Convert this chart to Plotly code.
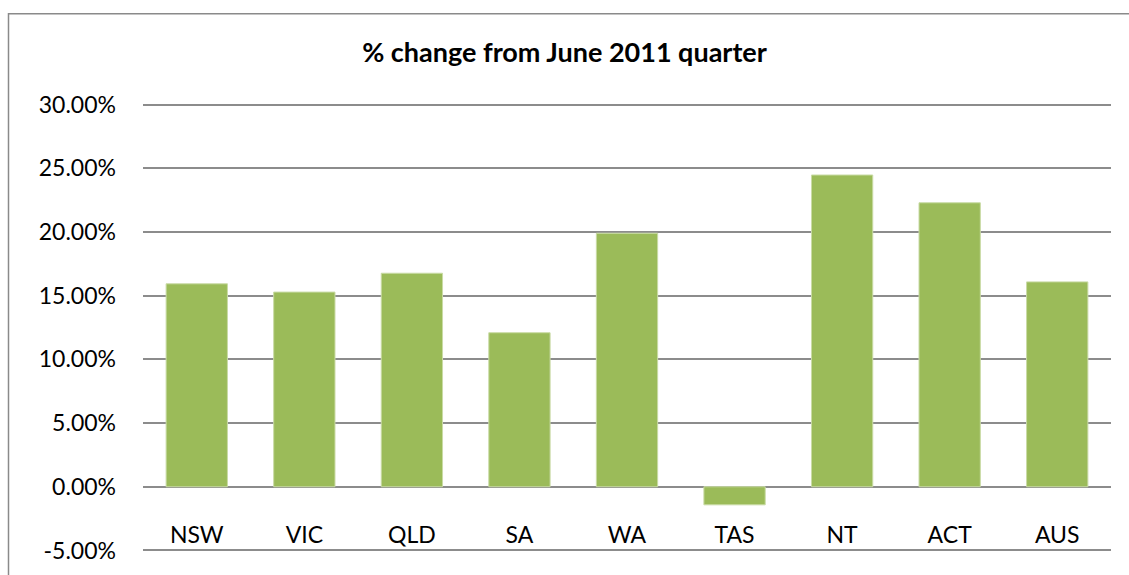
import plotly.graph_objects as go

categories = ["NSW", "VIC", "QLD", "SA", "WA", "TAS", "NT", "ACT", "AUS"]
pct_change = [0.1593, 0.1528, 0.1676, 0.1209, 0.1990, -0.0142, 0.2447, 0.2229, 0.1608]
title_text = "% change from June 2011 quarter"
y_ticks = [-0.05, 0.0, 0.05, 0.10, 0.15, 0.20, 0.25, 0.30]
y_tick_labels = [f"{v * 100:.2f}%" for v in y_ticks]

W, H = 1129, 575
ymin, ymax = -0.05, 0.30
PAD = 0.002  # small range padding so edge gridlines are drawn
# pixel positions of plot area (for -5% .. 30%)
px_left, px_right, px_top, px_bot = 143, 1111, 105, 557
scale = (px_bot - px_top) / (ymax - ymin)
T = round(px_top - PAD * scale)
B = round(H - (px_bot + PAD * scale))
L, R = px_left, W - px_right
plot_w = W - L - R
plot_h = H - T - B

FONT = "Lato, 'Open Sans', sans-serif"
GRID = "#8c8c8c"

fig = go.Figure()
fig.add_trace(go.Bar(
    x=categories, y=pct_change,
    marker=dict(color="#9bbb59", line=dict(color="#c9dba5", width=1)),
    width=0.57,
    hoverinfo="x+y",
))

fig.update_layout(
    width=W, height=H,
    margin=dict(l=L, r=R, t=T, b=B, pad=0),
    paper_bgcolor="white", plot_bgcolor="white",
    showlegend=False,
    font=dict(family=FONT, size=23, color="#000000"),
    title=dict(text="<b>" + title_text + "</b>", x=0.5, xanchor="center",
               y=1 - 53 / H, yanchor="middle", font=dict(size=27, family=FONT)),
    xaxis=dict(
        anchor="free", position=(0 - (ymin - PAD)) / (ymax - ymin + 2 * PAD),
        showgrid=False, showline=False, zeroline=False,
        ticks="", ticklabelstandoff=32,
        tickfont=dict(size=23),
        range=[-0.5, len(categories) - 0.5],
    ),
    yaxis=dict(
        range=[ymin - PAD, ymax + PAD],
        tickvals=y_ticks, ticktext=y_tick_labels,
        showgrid=True, gridcolor=GRID, gridwidth=1.5,
        zeroline=True, zerolinecolor=GRID, zerolinewidth=1.5,
        showline=False, ticks="", ticklabelstandoff=26,
        tickfont=dict(size=23),
    ),
    bargap=0.43,
)

# outer chart border (cropped on right/bottom in the reference)
fig.add_shape(type="rect", xref="paper", yref="paper",
              x0=(8.5 - L) / plot_w, x1=1.2,
              y0=-0.3, y1=(H - B - 12.5) / plot_h,
              line=dict(color="#8a8a8a", width=1.5), fillcolor="rgba(0,0,0,0)",
              layer="below")

fig.write_html("out.html",
               config={"displayModeBar": False},
               post_script="document.body.style.margin='0';document.body.style.overflow='hidden';")
